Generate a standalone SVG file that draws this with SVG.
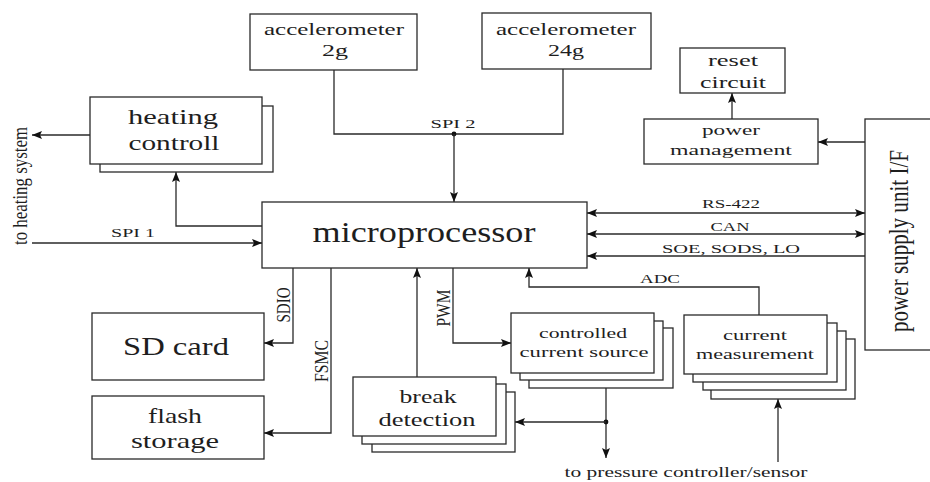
<svg xmlns="http://www.w3.org/2000/svg" width="930" height="482" viewBox="0 0 930 482" font-family="'Liberation Serif', 'DejaVu Serif', serif">
<style>
.box{fill:#fff;stroke:#2a2a2a;stroke-width:1.3}
.ln{fill:none;stroke:#2a2a2a;stroke-width:1.3}
.ar{marker-end:url(#ah)}
.ar2{marker-start:url(#ah);marker-end:url(#ah)}
text{font-family:'Liberation Serif','DejaVu Serif',serif;fill:#1e1e1e;text-anchor:middle}
</style>
<defs>
<marker id="ah" viewBox="0 0 10 8" refX="10" refY="4" markerWidth="10" markerHeight="8" markerUnits="userSpaceOnUse" orient="auto-start-reverse">
<path d="M0,0 L10,4 L0,8 L2,4 z" fill="#111"/>
</marker>
</defs>
<rect width="930" height="482" fill="#fff"/>

<g id="connectors">
<path class="ln ar" d="M90,135 H32"/>
<path class="ln ar" d="M262,226 H176 V172"/>
<path class="ln ar" d="M32,243 H262"/>
<path class="ln" d="M334,70 V134 H563 V69"/>
<circle cx="454" cy="134" r="2.4" fill="#111"/>
<path class="ln ar" d="M454,134 V202"/>
<path class="ln ar2" d="M587,213 H865"/>
<path class="ln ar2" d="M587,234 H865"/>
<path class="ln ar" d="M865,256 H587"/>
<path class="ln ar" d="M865,142 H818"/>
<path class="ln ar" d="M732,119 V93"/>
<path class="ln ar" d="M759,315 V287 H529 V268"/>
<path class="ln ar" d="M453,268 V343 H511"/>
<path class="ln ar" d="M417,377 V268"/>
<path class="ln ar" d="M293,268 V343 H264"/>
<path class="ln ar" d="M331,268 V433 H264"/>
<path class="ln ar" d="M606,388 V458"/>
<circle cx="606" cy="422" r="2.4" fill="#111"/>
<path class="ln ar" d="M606,422 H515"/>
<path class="ln ar" d="M778,462 V399"/>
<text transform="translate(133,237) scale(1.3,1)" font-size="13" textLength="33.8" lengthAdjust="spacingAndGlyphs">SPI 1</text>
<text transform="translate(453,128) scale(1.3,1)" font-size="13" textLength="34.6" lengthAdjust="spacingAndGlyphs">SPI 2</text>
<text transform="translate(731,208) scale(1.3,1)" font-size="13" textLength="44.6" lengthAdjust="spacingAndGlyphs">RS-422</text>
<text transform="translate(730,231) scale(1.3,1)" font-size="13" textLength="30" lengthAdjust="spacingAndGlyphs">CAN</text>
<text transform="translate(731,253) scale(1.3,1)" font-size="13" textLength="106.2" lengthAdjust="spacingAndGlyphs">SOE, SODS, LO</text>
<text transform="translate(660,283) scale(1.3,1)" font-size="13" textLength="30.8" lengthAdjust="spacingAndGlyphs">ADC</text>
<text transform="translate(27,186) scale(1.35,1) rotate(-90)" font-size="15" textLength="118" lengthAdjust="spacingAndGlyphs">to heating system</text>
<text transform="translate(290,305) scale(1.35,1) rotate(-90)" font-size="14" textLength="35" lengthAdjust="spacingAndGlyphs">SDIO</text>
<text transform="translate(328,361) scale(1.35,1) rotate(-90)" font-size="14" textLength="42" lengthAdjust="spacingAndGlyphs">FSMC</text>
<text transform="translate(450,308) scale(1.35,1) rotate(-90)" font-size="14" textLength="37" lengthAdjust="spacingAndGlyphs">PWM</text>
<text transform="translate(686,477) scale(1.3,1)" font-size="15" textLength="186.9" lengthAdjust="spacingAndGlyphs">to pressure controller/sensor</text>
</g>

<g id="heating">
<rect class="box" x="100" y="106" width="173" height="66"/>
<rect class="box" x="90" y="97" width="172" height="67"/>
<text transform="translate(173,124) scale(1.3,1)" font-size="22" textLength="69.2" lengthAdjust="spacingAndGlyphs">heating</text>
<text transform="translate(174,150) scale(1.3,1)" font-size="22" textLength="70" lengthAdjust="spacingAndGlyphs">controll</text>
</g>

<g id="acc2g">
<rect class="box" x="250" y="14" width="167" height="56"/>
<text transform="translate(334,35) scale(1.3,1)" font-size="17" textLength="107.7" lengthAdjust="spacingAndGlyphs">accelerometer</text>
<text transform="translate(335,56) scale(1.3,1)" font-size="17" textLength="20" lengthAdjust="spacingAndGlyphs">2g</text>
</g>

<g id="acc24g">
<rect class="box" x="482" y="13" width="169" height="56"/>
<text transform="translate(566,35) scale(1.3,1)" font-size="17" textLength="107.7" lengthAdjust="spacingAndGlyphs">accelerometer</text>
<text transform="translate(566,56) scale(1.3,1)" font-size="17" textLength="27.7" lengthAdjust="spacingAndGlyphs">24g</text>
</g>

<g id="reset">
<rect class="box" x="680" y="48" width="105" height="45"/>
<text transform="translate(733,66) scale(1.3,1)" font-size="16" textLength="38.5" lengthAdjust="spacingAndGlyphs">reset</text>
<text transform="translate(733,88) scale(1.3,1)" font-size="16" textLength="50.8" lengthAdjust="spacingAndGlyphs">circuit</text>
</g>

<g id="power">
<rect class="box" x="644" y="119" width="174" height="45"/>
<text transform="translate(731,135) scale(1.3,1)" font-size="15" textLength="44.6" lengthAdjust="spacingAndGlyphs">power</text>
<text transform="translate(731,155) scale(1.3,1)" font-size="15" textLength="93.8" lengthAdjust="spacingAndGlyphs">management</text>
</g>

<g id="psu">
<rect class="box" x="865" y="119" width="90" height="231"/>
<text transform="translate(908,241) scale(1.3,1) rotate(-90)" font-size="21" textLength="182" lengthAdjust="spacingAndGlyphs">power supply unit I/F</text>
</g>

<g id="micro">
<rect class="box" x="262" y="202" width="325" height="66"/>
<text transform="translate(424,242) scale(1.3,1)" font-size="29" textLength="171.5" lengthAdjust="spacingAndGlyphs">microprocessor</text>
</g>

<g id="sdcard">
<rect class="box" x="92" y="313" width="172" height="67"/>
<text transform="translate(176,355) scale(1.3,1)" font-size="25" textLength="81.5" lengthAdjust="spacingAndGlyphs">SD card</text>
</g>

<g id="flash">
<rect class="box" x="92" y="396" width="172" height="63"/>
<text transform="translate(175,423) scale(1.3,1)" font-size="20" textLength="41.5" lengthAdjust="spacingAndGlyphs">flash</text>
<text transform="translate(175,448) scale(1.3,1)" font-size="20" textLength="67.7" lengthAdjust="spacingAndGlyphs">storage</text>
</g>

<g id="break">
<rect class="box" x="372" y="392" width="143" height="60"/>
<rect class="box" x="362" y="384" width="144" height="60"/>
<rect class="box" x="353" y="377" width="143" height="59"/>
<text transform="translate(428,403) scale(1.3,1)" font-size="19" textLength="43.8" lengthAdjust="spacingAndGlyphs">break</text>
<text transform="translate(427,426) scale(1.3,1)" font-size="19" textLength="74.6" lengthAdjust="spacingAndGlyphs">detection</text>
</g>

<g id="source">
<rect class="box" x="529" y="328" width="144" height="60"/>
<rect class="box" x="520" y="321" width="143" height="59"/>
<rect class="box" x="511" y="313" width="143" height="60"/>
<text transform="translate(583,338) scale(1.3,1)" font-size="15" textLength="67.7" lengthAdjust="spacingAndGlyphs">controlled</text>
<text transform="translate(584,357) scale(1.3,1)" font-size="15" textLength="99.2" lengthAdjust="spacingAndGlyphs">current source</text>
</g>

<g id="measure">
<rect class="box" x="711" y="339" width="144" height="60"/>
<rect class="box" x="703" y="331" width="143" height="59"/>
<rect class="box" x="693" y="323" width="144" height="59"/>
<rect class="box" x="684" y="315" width="143" height="59"/>
<text transform="translate(755,340) scale(1.3,1)" font-size="15" textLength="49.2" lengthAdjust="spacingAndGlyphs">current</text>
<text transform="translate(755,359) scale(1.3,1)" font-size="15" textLength="90.8" lengthAdjust="spacingAndGlyphs">measurement</text>
</g>
</svg>
